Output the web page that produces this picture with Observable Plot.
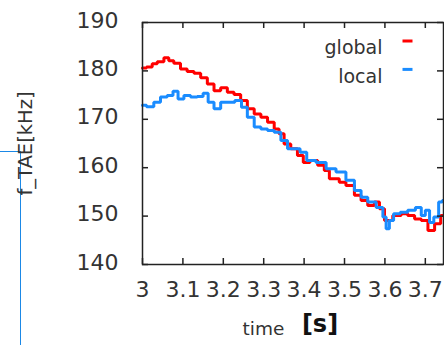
<!DOCTYPE html>
<html>
<head>
<meta charset="utf-8">
<script src="https://cdn.jsdelivr.net/npm/d3@7"></script>
<script src="https://cdn.jsdelivr.net/npm/@observablehq/plot@0.6"></script>
<style>
  body { margin: 0; background: #fff; }
  #chart { position: relative; width: 444px; height: 345px; }
  #chart svg { position: absolute; left: 0; top: 0; }
  .bracket {
    position: absolute; left: 0; top: 151px; width: 21px; height: 194px;
    border-top: 1px solid #1b88e6; border-right: 1px solid #1b88e6;
    box-sizing: border-box;
  }
</style>
</head>
<body>
<div id="chart"><div class="bracket"></div></div>
<script>
// TAE frequency estimates (kHz) versus time (s)
const globalTime = [3.000, 3.020, 3.028, 3.045, 3.061, 3.069, 3.086, 3.102, 3.119, 3.136,
  3.152, 3.169, 3.185, 3.202, 3.218, 3.235, 3.251, 3.268, 3.285, 3.301,
  3.318, 3.334, 3.342, 3.359, 3.375, 3.392, 3.404, 3.425, 3.442, 3.458,
  3.467, 3.483, 3.491, 3.516, 3.533, 3.549, 3.566, 3.582, 3.591, 3.607,
  3.632, 3.648, 3.665, 3.682, 3.698, 3.715, 3.731, 3.745];
const globalFreq = [180.6, 180.8, 181.5, 181.9, 182.7, 182.1, 181.6, 180.4, 179.9, 179.5,
  178.6, 177.3, 175.9, 176.5, 175.6, 175.1, 173.9, 172.2, 171.1, 170.4,
  169.4, 168.0, 167.0, 164.9, 163.9, 162.5, 161.1, 161.5, 160.5, 159.4,
  157.7, 157.7, 157.0, 156.3, 154.3, 153.2, 152.2, 152.9, 151.5, 149.1,
  150.1, 150.5, 150.1, 149.4, 149.1, 147.0, 148.4, 150.1];

const localTime = [3.000, 3.020, 3.036, 3.053, 3.069, 3.082, 3.094, 3.111, 3.127, 3.144,
  3.156, 3.169, 3.185, 3.202, 3.218, 3.239, 3.251, 3.268, 3.285, 3.301,
  3.318, 3.334, 3.351, 3.367, 3.384, 3.396, 3.417, 3.442, 3.467, 3.491,
  3.516, 3.533, 3.549, 3.566, 3.591, 3.599, 3.607, 3.615, 3.628, 3.648,
  3.665, 3.686, 3.694, 3.706, 3.715, 3.727, 3.739, 3.745];
const localFreq = [172.9, 172.6, 173.5, 174.6, 174.9, 175.8, 174.2, 174.9, 174.6, 174.7,
  175.4, 173.5, 172.2, 173.5, 173.5, 173.9, 172.5, 170.4, 168.4, 168.0,
  167.7, 167.3, 165.6, 163.9, 163.9, 163.2, 161.5, 161.1, 159.8, 159.1,
  157.4, 155.3, 153.9, 152.9, 151.8, 149.8, 147.4, 149.1, 150.5, 150.8,
  151.2, 151.8, 150.1, 151.2, 148.7, 149.8, 152.9, 153.2];

const seriesNames = ["global", "local"];
const seriesColors = ["#ff0000", "#1a8cff"];
const xTicks = [3, 3.1, 3.2, 3.3, 3.4, 3.5, 3.6, 3.7];
const yTicks = [140, 150, 160, 170, 180, 190];
const yLabel = "f_TAE[kHz]";

const rows = [
  ...globalTime.map((t, i) => ({series: seriesNames[0], time: t, freq: globalFreq[i]})),
  ...localTime.map((t, i) => ({series: seriesNames[1], time: t, freq: localFreq[i]}))
];

const ink = "#333";
const bar = {draw(ctx) { ctx.moveTo(-5, -1.5); ctx.lineTo(5, -1.5); ctx.lineTo(5, 1.5); ctx.lineTo(-5, 1.5); ctx.closePath(); }};

// legend entries, one row per series
const legendMarks = seriesNames.flatMap((name, i) => [
  Plot.text([name], {frameAnchor: "top-right", dx: -61, dy: 18 + i * 28.6, textAnchor: "end",
    fontSize: 19, fill: ink}),
  Plot.dot([name], {frameAnchor: "top-right", dx: -36, dy: 18.5 + i * 28.4, symbol: bar,
    fill: seriesColors[i], stroke: null, r: 3})
]);

const plot = Plot.plot({
  width: 444,
  height: 345,
  marginLeft: 142,
  marginRight: 1,
  marginTop: 22,
  marginBottom: 81,
  style: {fontFamily: "DejaVu Sans", background: "transparent", color: ink},
  x: {domain: [3, 3.745]},
  y: {domain: [140, 190]},
  color: {domain: seriesNames, range: seriesColors},
  marks: [
    Plot.line(rows, {x: "time", y: "freq", z: "series", stroke: "series", strokeWidth: 3,
      curve: "step", strokeLinejoin: "miter"}),
    Plot.frame({stroke: "#222", strokeWidth: 1.5}),
    // inward ticks on all four sides
    Plot.tickX(xTicks, {x: d => d, insetTop: 236, stroke: "#222", strokeWidth: 1.5}),
    Plot.tickX(xTicks, {x: d => d, insetBottom: 236, stroke: "#222", strokeWidth: 1.5}),
    Plot.tickY(yTicks, {y: d => d, insetRight: 295, stroke: "#222", strokeWidth: 1.5}),
    Plot.tickY(yTicks, {y: d => d, insetLeft: 295, stroke: "#222", strokeWidth: 1.5}),
    Plot.axisX(xTicks, {anchor: "bottom", tickSize: 0, tickPadding: 17, fontSize: 22,
      tickFormat: d => String(d), label: null, fill: ink}),
    Plot.axisY(yTicks, {anchor: "left", tickSize: 0, tickPadding: 24, fontSize: 22, dy: -2,
      tickFormat: d => String(d), label: yLabel, labelAnchor: "center", labelArrow: false,
      labelOffset: 124, fill: ink}),
    Plot.text(["time"], {frameAnchor: "bottom", dx: -29.5, dy: 70, fontSize: 18.5, fill: ink}),
    Plot.text(["[s]"], {frameAnchor: "bottom", dx: 27, dy: 67, fontSize: 24, fontWeight: "bold", fill: "#111"}),
    ...legendMarks
  ]
});

// the axis label shares the tick-label font size; give it its own
d3.select(plot).selectAll("[aria-label='y-axis label'] text").attr("font-size", 19.5);

document.getElementById("chart").appendChild(plot);
</script>
</body>
</html>
